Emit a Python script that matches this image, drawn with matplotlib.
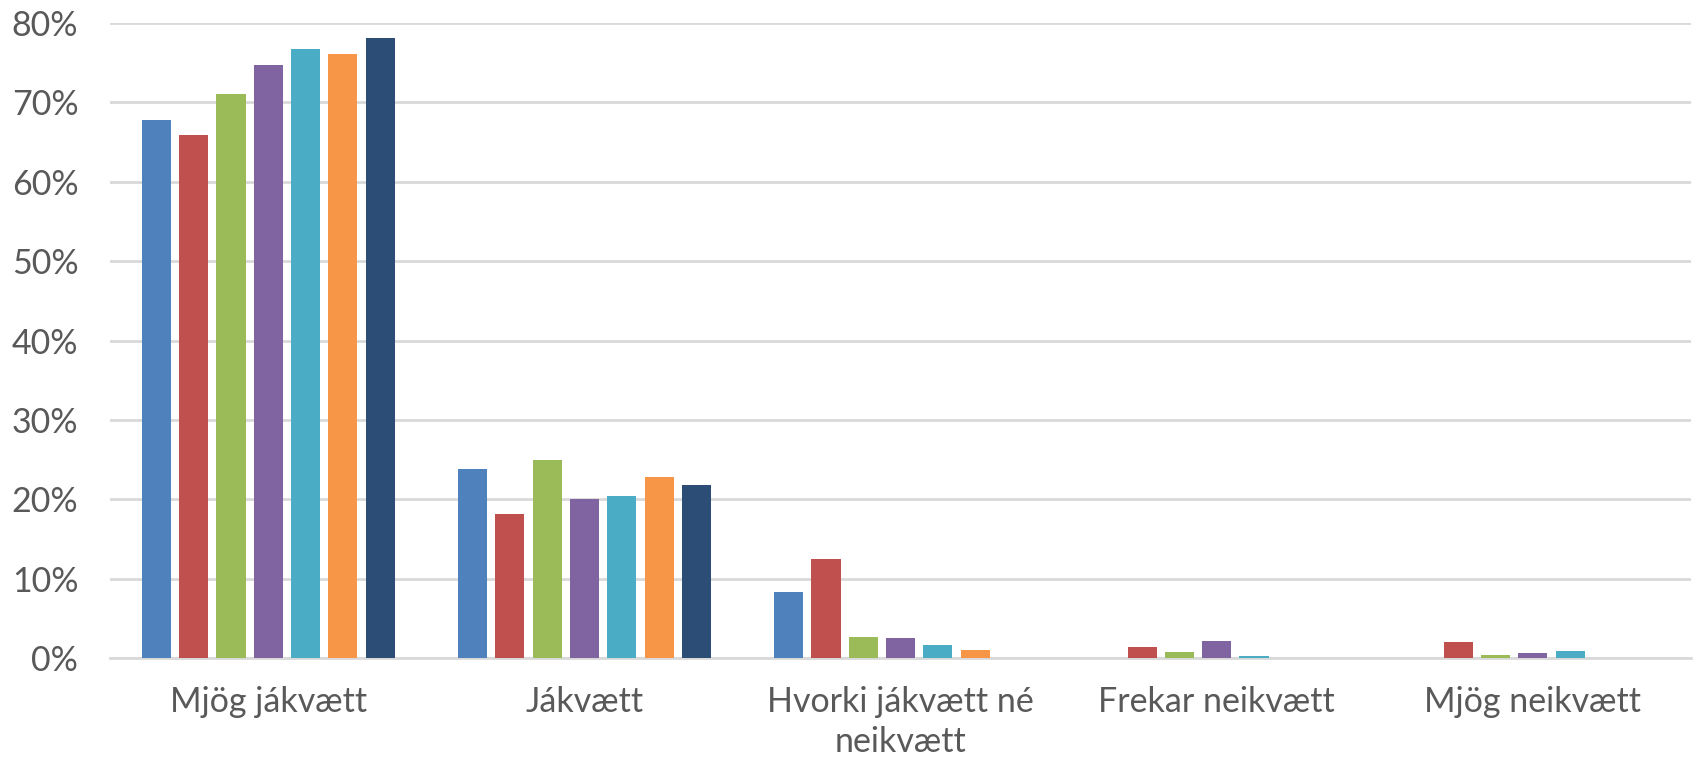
import numpy as np
import matplotlib
matplotlib.use('Agg')
import matplotlib.pyplot as plt
from matplotlib.ticker import FuncFormatter

categories = ['Mjög jákvætt', 'Jákvætt', 'Hvorki jákvætt né\nneikvætt', 'Frekar neikvætt', 'Mjög neikvætt']

# seven series, values in percent (no legend in the original)
s1 = [67.8, 23.8, 8.3, 0.0, 0.0]
s2 = [65.9, 18.1, 12.5, 1.4, 2.05]
s3 = [71.0, 25.0, 2.7, 0.76, 0.33]
s4 = [74.7, 20.0, 2.5, 2.2, 0.67]
s5 = [76.7, 20.4, 1.6, 0.3, 0.95]
s6 = [76.1, 22.8, 1.05, 0.0, 0.0]
s7 = [78.1, 21.8, 0.0, 0.0, 0.0]
series = [s1, s2, s3, s4, s5, s6, s7]
colors = ['#4F81BD', '#C0504D', '#9BBB59', '#8064A2', '#4BACC6', '#F79646', '#2C4D75']

plt.rcParams['font.family'] = ['Lato', 'DejaVu Sans']

fig = plt.figure(figsize=(16.96, 7.67), dpi=100)
ax = fig.add_axes([0.065, 0.142, 0.932, 0.828])

x = np.arange(len(categories))
step = 0.118
width = 0.092
for i, (vals, c) in enumerate(zip(series, colors)):
  ax.bar(x + (i - 3) * step, vals, width=width, color=c, zorder=3)

ax.set_ylim(0, 80)
ax.set_xlim(-0.5, len(categories) - 0.5)
ax.set_yticks(range(0, 81, 10))
ax.yaxis.set_major_formatter(FuncFormatter(lambda v, p: '{:.0f}%'.format(v)))
ax.grid(axis='y', color='#D9D9D9', linewidth=2, zorder=0)
ax.set_xticks(x)
ax.set_xticklabels(categories, linespacing=1.3)
ax.tick_params(axis='both', length=0, labelsize=24.5, colors='#595959')
ax.tick_params(axis='x', pad=20)
ax.tick_params(axis='y', pad=23)
for sp in ['top', 'right', 'left']:
  ax.spines[sp].set_visible(False)
ax.spines['bottom'].set_color('#D9D9D9')
ax.spines['bottom'].set_linewidth(2)

fig.savefig('out.png', dpi=100)
